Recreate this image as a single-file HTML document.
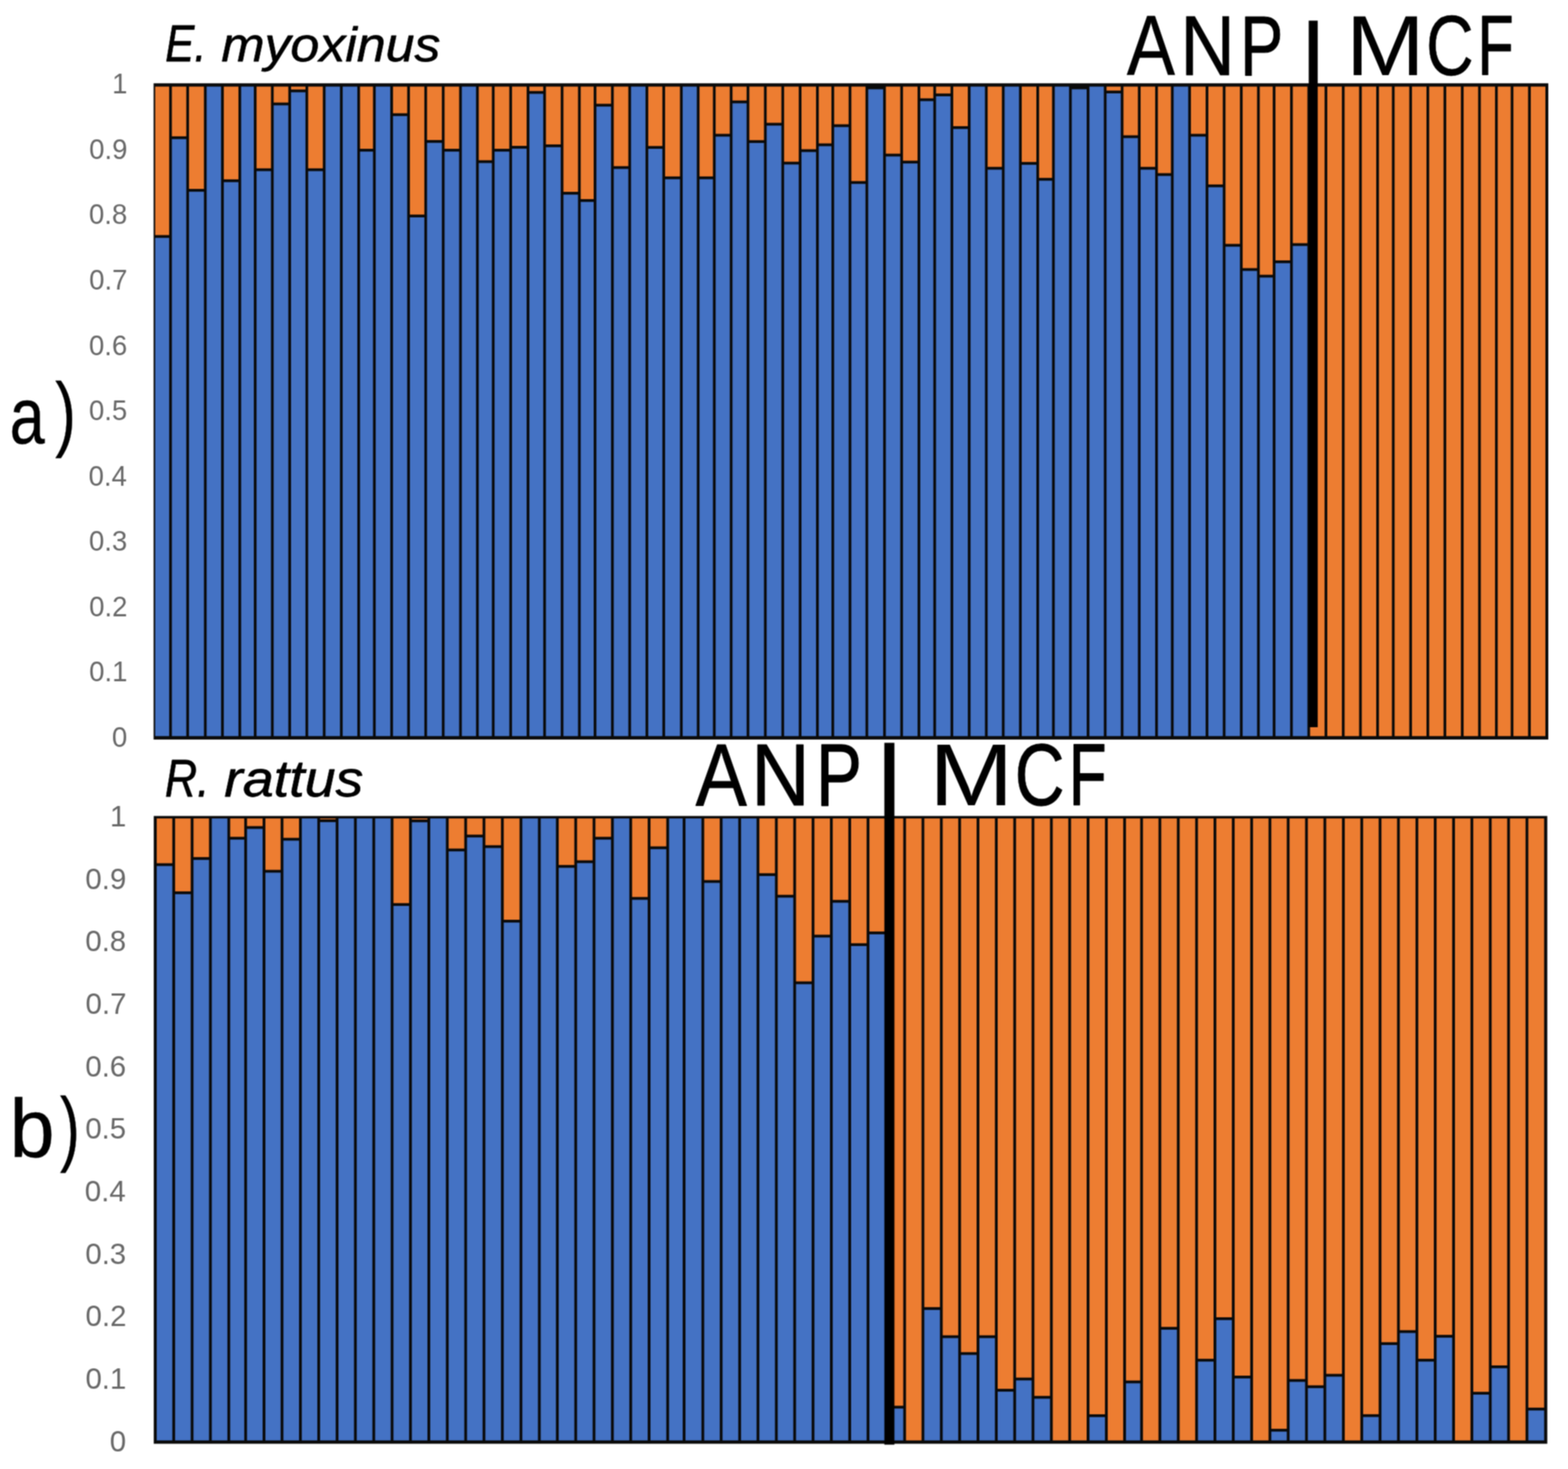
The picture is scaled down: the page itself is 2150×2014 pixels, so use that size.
<!DOCTYPE html>
<html lang="en">
<head>
<meta charset="utf-8">
<title>Population structure: E. myoxinus and R. rattus (ANP | MCF)</title>
<style>
html, body { margin: 0; padding: 0; background: #ffffff; }
body { width: 2150px; height: 2014px; overflow: hidden; }
svg { display: block; font-family: "Liberation Sans", sans-serif; font-kerning: none; }
</style>
</head>
<body>
<svg width="2150" height="2014" viewBox="0 0 2150 2014">
<title>Ancestry proportions for E. myoxinus and R. rattus, ANP | MCF</title>
<desc>Two stacked bar charts with a vertical axis from 0 to 1. Panel a) E. myoxinus and panel b) R. rattus; in each panel a thick vertical line separates ANP individuals (left) from MCF individuals (right).</desc>
<defs>
<filter id="soft" filterUnits="userSpaceOnUse" x="0" y="0" width="2150" height="2014" color-interpolation-filters="sRGB">
<feConvolveMatrix order="3" kernelMatrix="1 2 1 2 4 2 1 2 1" edgeMode="duplicate" preserveAlpha="true"/>
</filter>
</defs>
<g id="figure" filter="url(#soft)">
<rect width="2150" height="2014" fill="#ffffff"/>
<g id="chart-a">
<rect x="210.6" y="114.2" width="1912.4" height="899.7" fill="#0a0a0a"/>
<g fill="#4472c4">
<rect x="212.8" y="326.1" width="19.15" height="683.1"/>
<rect x="235.65" y="190.7" width="19.8" height="818.5"/>
<rect x="259.15" y="262.8" width="20.5" height="746.4"/>
<rect x="283.35" y="118.7" width="19.8" height="890.5"/>
<rect x="306.85" y="249.7" width="20.1" height="759.5"/>
<rect x="330.65" y="118.7" width="17.4" height="890.5"/>
<rect x="351.75" y="234.6" width="19.8" height="774.6"/>
<rect x="375.25" y="144.4" width="20.1" height="864.8"/>
<rect x="399.05" y="126.5" width="19.8" height="882.7"/>
<rect x="422.55" y="234.6" width="20.1" height="774.6"/>
<rect x="446.35" y="118.7" width="19.8" height="890.5"/>
<rect x="469.85" y="118.7" width="20.1" height="890.5"/>
<rect x="493.65" y="207.8" width="17.8" height="801.4"/>
<rect x="515.15" y="118.7" width="20" height="890.5"/>
<rect x="538.85" y="159.1" width="19.5" height="850.1"/>
<rect x="562.05" y="298" width="19.8" height="711.2"/>
<rect x="585.55" y="195.8" width="20.3" height="813.4"/>
<rect x="609.55" y="207.8" width="20" height="801.4"/>
<rect x="633.25" y="118.7" width="19.5" height="890.5"/>
<rect x="656.45" y="223.5" width="18" height="785.7"/>
<rect x="678.15" y="207.8" width="20.2" height="801.4"/>
<rect x="702.05" y="203.8" width="20.1" height="805.4"/>
<rect x="725.85" y="128.6" width="19" height="880.6"/>
<rect x="748.55" y="201.8" width="20.3" height="807.4"/>
<rect x="772.55" y="266.8" width="20" height="742.4"/>
<rect x="796.25" y="276.8" width="17.8" height="732.4"/>
<rect x="817.75" y="146.1" width="20.1" height="863.1"/>
<rect x="841.55" y="231.6" width="20" height="777.6"/>
<rect x="865.25" y="118.7" width="19.9" height="890.5"/>
<rect x="888.85" y="204" width="19.4" height="805.2"/>
<rect x="911.95" y="245.7" width="20.4" height="763.5"/>
<rect x="936.05" y="118.7" width="19.4" height="890.5"/>
<rect x="959.15" y="245.7" width="18.4" height="763.5"/>
<rect x="981.25" y="187.3" width="19.4" height="821.9"/>
<rect x="1004.35" y="141.6" width="19.4" height="867.6"/>
<rect x="1027.45" y="196" width="20.1" height="813.2"/>
<rect x="1051.25" y="172.2" width="20.2" height="837"/>
<rect x="1075.15" y="225.5" width="20.1" height="783.7"/>
<rect x="1098.95" y="208.4" width="20" height="800.8"/>
<rect x="1122.65" y="200.4" width="17.4" height="808.8"/>
<rect x="1143.75" y="174.2" width="19.9" height="835"/>
<rect x="1167.35" y="252.1" width="19.4" height="757.1"/>
<rect x="1190.45" y="122.4" width="20.5" height="886.8"/>
<rect x="1214.65" y="214.5" width="19.8" height="794.7"/>
<rect x="1238.15" y="224.1" width="20" height="785.1"/>
<rect x="1261.85" y="138.6" width="17.9" height="870.6"/>
<rect x="1283.45" y="132" width="19.9" height="877.2"/>
<rect x="1307.05" y="176.8" width="20" height="832.4"/>
<rect x="1330.75" y="118.7" width="19.8" height="890.5"/>
<rect x="1354.25" y="232.6" width="19.5" height="776.6"/>
<rect x="1377.45" y="118.7" width="19.8" height="890.5"/>
<rect x="1400.95" y="225.9" width="20.1" height="783.3"/>
<rect x="1424.75" y="247.7" width="17.8" height="761.5"/>
<rect x="1446.25" y="118.7" width="19.6" height="890.5"/>
<rect x="1469.55" y="122.4" width="20.5" height="886.8"/>
<rect x="1493.75" y="118.7" width="19.8" height="890.5"/>
<rect x="1517.25" y="128" width="19.5" height="881.2"/>
<rect x="1540.45" y="189.3" width="19.8" height="819.9"/>
<rect x="1563.95" y="232.6" width="20" height="776.6"/>
<rect x="1587.65" y="241.2" width="17.9" height="768"/>
<rect x="1609.25" y="118.7" width="20" height="890.5"/>
<rect x="1632.95" y="187.3" width="20.2" height="821.9"/>
<rect x="1656.85" y="256.7" width="19.8" height="752.5"/>
<rect x="1680.35" y="338.2" width="19.8" height="671"/>
<rect x="1703.85" y="371.4" width="19.8" height="637.8"/>
<rect x="1727.35" y="380.5" width="17.8" height="628.7"/>
<rect x="1748.85" y="360.8" width="20.1" height="648.4"/>
<rect x="1772.65" y="337.2" width="20" height="672"/>
</g>
<g fill="#ed7d31">
<rect x="212.8" y="118.7" width="19.15" height="203.6"/>
<rect x="235.65" y="118.7" width="19.8" height="68.2"/>
<rect x="259.15" y="118.7" width="20.5" height="140.3"/>
<rect x="306.85" y="118.7" width="20.1" height="127.2"/>
<rect x="351.75" y="118.7" width="19.8" height="112.1"/>
<rect x="375.25" y="118.7" width="20.1" height="21.9"/>
<rect x="399.05" y="118.7" width="19.8" height="4"/>
<rect x="422.55" y="118.7" width="20.1" height="112.1"/>
<rect x="493.65" y="118.7" width="17.8" height="85.3"/>
<rect x="538.85" y="118.7" width="19.5" height="36.6"/>
<rect x="562.05" y="118.7" width="19.8" height="175.5"/>
<rect x="585.55" y="118.7" width="20.3" height="73.3"/>
<rect x="609.55" y="118.7" width="20" height="85.3"/>
<rect x="656.45" y="118.7" width="18" height="101"/>
<rect x="678.15" y="118.7" width="20.2" height="85.3"/>
<rect x="702.05" y="118.7" width="20.1" height="81.3"/>
<rect x="725.85" y="118.7" width="19" height="6.1"/>
<rect x="748.55" y="118.7" width="20.3" height="79.3"/>
<rect x="772.55" y="118.7" width="20" height="144.3"/>
<rect x="796.25" y="118.7" width="17.8" height="154.3"/>
<rect x="817.75" y="118.7" width="20.1" height="23.6"/>
<rect x="841.55" y="118.7" width="20" height="109.1"/>
<rect x="888.85" y="118.7" width="19.4" height="81.5"/>
<rect x="911.95" y="118.7" width="20.4" height="123.2"/>
<rect x="959.15" y="118.7" width="18.4" height="123.2"/>
<rect x="981.25" y="118.7" width="19.4" height="64.8"/>
<rect x="1004.35" y="118.7" width="19.4" height="19.1"/>
<rect x="1027.45" y="118.7" width="20.1" height="73.5"/>
<rect x="1051.25" y="118.7" width="20.2" height="49.7"/>
<rect x="1075.15" y="118.7" width="20.1" height="103"/>
<rect x="1098.95" y="118.7" width="20" height="85.9"/>
<rect x="1122.65" y="118.7" width="17.4" height="77.9"/>
<rect x="1143.75" y="118.7" width="19.9" height="51.7"/>
<rect x="1167.35" y="118.7" width="19.4" height="129.6"/>
<rect x="1214.65" y="118.7" width="19.8" height="92"/>
<rect x="1238.15" y="118.7" width="20" height="101.6"/>
<rect x="1261.85" y="118.7" width="17.9" height="16.1"/>
<rect x="1283.45" y="118.7" width="19.9" height="9.5"/>
<rect x="1307.05" y="118.7" width="20" height="54.3"/>
<rect x="1354.25" y="118.7" width="19.5" height="110.1"/>
<rect x="1400.95" y="118.7" width="20.1" height="103.4"/>
<rect x="1424.75" y="118.7" width="17.8" height="125.2"/>
<rect x="1517.25" y="118.7" width="19.5" height="5.5"/>
<rect x="1540.45" y="118.7" width="19.8" height="66.8"/>
<rect x="1563.95" y="118.7" width="20" height="110.1"/>
<rect x="1587.65" y="118.7" width="17.9" height="118.7"/>
<rect x="1632.95" y="118.7" width="20.2" height="64.8"/>
<rect x="1656.85" y="118.7" width="19.8" height="134.2"/>
<rect x="1680.35" y="118.7" width="19.8" height="215.7"/>
<rect x="1703.85" y="118.7" width="19.8" height="248.9"/>
<rect x="1727.35" y="118.7" width="17.8" height="258"/>
<rect x="1748.85" y="118.7" width="20.1" height="238.3"/>
<rect x="1772.65" y="118.7" width="20" height="214.7"/>
<rect x="1796.35" y="118.7" width="19.9" height="890.5"/>
<rect x="1819.95" y="118.7" width="20" height="890.5"/>
<rect x="1843.65" y="118.7" width="19.9" height="890.5"/>
<rect x="1867.25" y="118.7" width="19.8" height="890.5"/>
<rect x="1890.75" y="118.7" width="17.8" height="890.5"/>
<rect x="1912.25" y="118.7" width="20.1" height="890.5"/>
<rect x="1936.05" y="118.7" width="19.9" height="890.5"/>
<rect x="1959.65" y="118.7" width="19.7" height="890.5"/>
<rect x="1983.05" y="118.7" width="20.1" height="890.5"/>
<rect x="2006.85" y="118.7" width="19.9" height="890.5"/>
<rect x="2030.45" y="118.7" width="19.5" height="890.5"/>
<rect x="2053.65" y="118.7" width="17.8" height="890.5"/>
<rect x="2075.15" y="118.7" width="20.1" height="890.5"/>
<rect x="2098.95" y="118.7" width="20.05" height="890.5"/>
</g>
</g>
<g id="chart-b">
<rect x="210.8" y="1118.7" width="1910.8" height="860.7" fill="#0a0a0a"/>
<g fill="#4472c4">
<rect x="214.9" y="1187.3" width="21.4" height="787.5"/>
<rect x="240.1" y="1225.9" width="21.4" height="748.9"/>
<rect x="265.3" y="1178.9" width="21.3" height="795.9"/>
<rect x="290.4" y="1122.1" width="21.4" height="852.7"/>
<rect x="315.6" y="1151.1" width="19.3" height="823.7"/>
<rect x="338.7" y="1136.4" width="21.4" height="838.4"/>
<rect x="363.9" y="1196.4" width="20.9" height="778.4"/>
<rect x="388.6" y="1152.5" width="21.4" height="822.3"/>
<rect x="413.8" y="1122.1" width="21.3" height="852.7"/>
<rect x="438.9" y="1127.1" width="21.4" height="847.7"/>
<rect x="464.1" y="1122.1" width="21.3" height="852.7"/>
<rect x="489.2" y="1122.1" width="21.4" height="852.7"/>
<rect x="514.4" y="1122.1" width="21.3" height="852.7"/>
<rect x="539.5" y="1242" width="21.4" height="732.8"/>
<rect x="564.7" y="1127.3" width="21.4" height="847.5"/>
<rect x="589.9" y="1122.1" width="21.5" height="852.7"/>
<rect x="615.2" y="1167.2" width="21.4" height="807.6"/>
<rect x="640.4" y="1148.1" width="21.3" height="826.7"/>
<rect x="665.5" y="1162.6" width="21.4" height="812.2"/>
<rect x="690.7" y="1264.8" width="21.7" height="710"/>
<rect x="716.2" y="1122.1" width="21.4" height="852.7"/>
<rect x="741.4" y="1122.1" width="20.9" height="852.7"/>
<rect x="766.1" y="1189.7" width="21.4" height="785.1"/>
<rect x="791.3" y="1183.3" width="21.3" height="791.5"/>
<rect x="816.4" y="1151.1" width="21.4" height="823.7"/>
<rect x="841.6" y="1122.1" width="21.3" height="852.7"/>
<rect x="866.7" y="1233.6" width="21.4" height="741.2"/>
<rect x="891.9" y="1164.2" width="21.7" height="810.6"/>
<rect x="917.4" y="1122.1" width="18.7" height="852.7"/>
<rect x="939.9" y="1122.1" width="21.9" height="852.7"/>
<rect x="965.6" y="1210.4" width="21.3" height="764.4"/>
<rect x="990.7" y="1122.1" width="21.6" height="852.7"/>
<rect x="1016.1" y="1122.1" width="21.3" height="852.7"/>
<rect x="1041.2" y="1201" width="21.4" height="773.8"/>
<rect x="1066.4" y="1230.6" width="21.3" height="744.2"/>
<rect x="1091.5" y="1349.3" width="21.4" height="625.5"/>
<rect x="1116.7" y="1285.3" width="21.3" height="689.5"/>
<rect x="1141.8" y="1237.6" width="21.4" height="737.2"/>
<rect x="1167" y="1297" width="21.3" height="677.8"/>
<rect x="1192.1" y="1280.9" width="21.3" height="693.9"/>
<rect x="1217.2" y="1931.1" width="21.3" height="43.7"/>
<rect x="1267.4" y="1795.9" width="21.4" height="178.9"/>
<rect x="1292.6" y="1834.5" width="21.3" height="140.3"/>
<rect x="1317.7" y="1857.6" width="21.4" height="117.2"/>
<rect x="1342.9" y="1834.5" width="21.3" height="140.3"/>
<rect x="1368" y="1907.9" width="21.4" height="66.9"/>
<rect x="1393.2" y="1892.5" width="21.3" height="82.3"/>
<rect x="1418.3" y="1917.6" width="21.4" height="57.2"/>
<rect x="1493.8" y="1942.8" width="21.3" height="32"/>
<rect x="1543.9" y="1896.5" width="19.5" height="78.3"/>
<rect x="1592.3" y="1823" width="21.4" height="151.8"/>
<rect x="1642.6" y="1866.7" width="21.4" height="108.1"/>
<rect x="1667.8" y="1809.8" width="21.3" height="165"/>
<rect x="1692.9" y="1889.8" width="21.4" height="85"/>
<rect x="1743.2" y="1962.7" width="21.2" height="12.1"/>
<rect x="1768.2" y="1894.5" width="21.3" height="80.3"/>
<rect x="1793.3" y="1903.1" width="21.4" height="71.7"/>
<rect x="1818.5" y="1887.4" width="21.6" height="87.4"/>
<rect x="1869.1" y="1942.7" width="21.3" height="32.1"/>
<rect x="1894.2" y="1844" width="21.4" height="130.8"/>
<rect x="1919.4" y="1827.5" width="21.5" height="147.3"/>
<rect x="1944.7" y="1866.7" width="21.3" height="108.1"/>
<rect x="1969.8" y="1833.9" width="21.4" height="140.9"/>
<rect x="2020.1" y="1912" width="21.4" height="62.8"/>
<rect x="2045.3" y="1875.8" width="21.3" height="99"/>
<rect x="2095.6" y="1933.7" width="21.7" height="41.1"/>
</g>
<g fill="#ed7d31">
<rect x="214.9" y="1122.1" width="21.4" height="61.4"/>
<rect x="240.1" y="1122.1" width="21.4" height="100"/>
<rect x="265.3" y="1122.1" width="21.3" height="53"/>
<rect x="315.6" y="1122.1" width="19.3" height="25.2"/>
<rect x="338.7" y="1122.1" width="21.4" height="10.5"/>
<rect x="363.9" y="1122.1" width="20.9" height="70.5"/>
<rect x="388.6" y="1122.1" width="21.4" height="26.6"/>
<rect x="438.9" y="1122.1" width="21.4" height="1.2"/>
<rect x="539.5" y="1122.1" width="21.4" height="116.1"/>
<rect x="564.7" y="1122.1" width="21.4" height="1.4"/>
<rect x="615.2" y="1122.1" width="21.4" height="41.3"/>
<rect x="640.4" y="1122.1" width="21.3" height="22.2"/>
<rect x="665.5" y="1122.1" width="21.4" height="36.7"/>
<rect x="690.7" y="1122.1" width="21.7" height="138.9"/>
<rect x="766.1" y="1122.1" width="21.4" height="63.8"/>
<rect x="791.3" y="1122.1" width="21.3" height="57.4"/>
<rect x="816.4" y="1122.1" width="21.4" height="25.2"/>
<rect x="866.7" y="1122.1" width="21.4" height="107.7"/>
<rect x="891.9" y="1122.1" width="21.7" height="38.3"/>
<rect x="965.6" y="1122.1" width="21.3" height="84.5"/>
<rect x="1041.2" y="1122.1" width="21.4" height="75.1"/>
<rect x="1066.4" y="1122.1" width="21.3" height="104.7"/>
<rect x="1091.5" y="1122.1" width="21.4" height="223.4"/>
<rect x="1116.7" y="1122.1" width="21.3" height="159.4"/>
<rect x="1141.8" y="1122.1" width="21.4" height="111.7"/>
<rect x="1167" y="1122.1" width="21.3" height="171.1"/>
<rect x="1192.1" y="1122.1" width="21.3" height="155"/>
<rect x="1217.2" y="1122.1" width="21.3" height="805.2"/>
<rect x="1242.3" y="1122.1" width="21.3" height="852.7"/>
<rect x="1267.4" y="1122.1" width="21.4" height="670"/>
<rect x="1292.6" y="1122.1" width="21.3" height="708.6"/>
<rect x="1317.7" y="1122.1" width="21.4" height="731.7"/>
<rect x="1342.9" y="1122.1" width="21.3" height="708.6"/>
<rect x="1368" y="1122.1" width="21.4" height="782"/>
<rect x="1393.2" y="1122.1" width="21.3" height="766.6"/>
<rect x="1418.3" y="1122.1" width="21.4" height="791.7"/>
<rect x="1443.5" y="1122.1" width="21.3" height="852.7"/>
<rect x="1468.6" y="1122.1" width="21.4" height="852.7"/>
<rect x="1493.8" y="1122.1" width="21.3" height="816.9"/>
<rect x="1518.9" y="1122.1" width="21.2" height="852.7"/>
<rect x="1543.9" y="1122.1" width="19.5" height="770.6"/>
<rect x="1567.2" y="1122.1" width="21.3" height="852.7"/>
<rect x="1592.3" y="1122.1" width="21.4" height="697.1"/>
<rect x="1617.5" y="1122.1" width="21.3" height="852.7"/>
<rect x="1642.6" y="1122.1" width="21.4" height="740.8"/>
<rect x="1667.8" y="1122.1" width="21.3" height="683.9"/>
<rect x="1692.9" y="1122.1" width="21.4" height="763.9"/>
<rect x="1718.1" y="1122.1" width="21.3" height="852.7"/>
<rect x="1743.2" y="1122.1" width="21.2" height="836.8"/>
<rect x="1768.2" y="1122.1" width="21.3" height="768.6"/>
<rect x="1793.3" y="1122.1" width="21.4" height="777.2"/>
<rect x="1818.5" y="1122.1" width="21.6" height="761.5"/>
<rect x="1843.9" y="1122.1" width="21.4" height="852.7"/>
<rect x="1869.1" y="1122.1" width="21.3" height="816.8"/>
<rect x="1894.2" y="1122.1" width="21.4" height="718.1"/>
<rect x="1919.4" y="1122.1" width="21.5" height="701.6"/>
<rect x="1944.7" y="1122.1" width="21.3" height="740.8"/>
<rect x="1969.8" y="1122.1" width="21.4" height="708"/>
<rect x="1995" y="1122.1" width="21.3" height="852.7"/>
<rect x="2020.1" y="1122.1" width="21.4" height="786.1"/>
<rect x="2045.3" y="1122.1" width="21.3" height="749.9"/>
<rect x="2070.4" y="1122.1" width="21.4" height="852.7"/>
<rect x="2095.6" y="1122.1" width="21.7" height="807.8"/>
</g>
</g>
<g id="dividers" fill="#000000">
<rect x="1794.5" y="28.3" width="12.3" height="968.7"/>
<rect x="1212.6" y="1018.4" width="13.8" height="962.2"/>
</g>
<g id="axis-a">
<g fill="#686868" font-size="38.5">
<text id="ya0" x="153.76" y="128.34" textLength="20.98" lengthAdjust="spacingAndGlyphs">1</text>
<text id="ya1" x="122.24" y="217.89" textLength="52.45" lengthAdjust="spacingAndGlyphs">0.9</text>
<text id="ya2" x="122.09" y="307.44" textLength="52.45" lengthAdjust="spacingAndGlyphs">0.8</text>
<text id="ya3" x="122.35" y="396.99" textLength="52.45" lengthAdjust="spacingAndGlyphs">0.7</text>
<text id="ya4" x="122.11" y="486.54" textLength="52.45" lengthAdjust="spacingAndGlyphs">0.6</text>
<text id="ya5" x="122.03" y="576.09" textLength="52.45" lengthAdjust="spacingAndGlyphs">0.5</text>
<text id="ya6" x="121.56" y="665.64" textLength="52.45" lengthAdjust="spacingAndGlyphs">0.4</text>
<text id="ya7" x="122.11" y="755.19" textLength="52.45" lengthAdjust="spacingAndGlyphs">0.3</text>
<text id="ya8" x="122.35" y="844.74" textLength="52.45" lengthAdjust="spacingAndGlyphs">0.2</text>
<text id="ya9" x="122.29" y="934.29" textLength="52.45" lengthAdjust="spacingAndGlyphs">0.1</text>
<text id="ya10" x="153.39" y="1023.84" textLength="20.98" lengthAdjust="spacingAndGlyphs">0</text>
</g>
</g>
<g id="axis-b">
<g fill="#686868" font-size="41.4">
<text id="yb0" x="150.82" y="1132.84" textLength="22.45" lengthAdjust="spacingAndGlyphs">1</text>
<text id="yb1" x="117.1" y="1218.51" textLength="56.11" lengthAdjust="spacingAndGlyphs">0.9</text>
<text id="yb2" x="116.94" y="1304.18" textLength="56.11" lengthAdjust="spacingAndGlyphs">0.8</text>
<text id="yb3" x="117.22" y="1389.85" textLength="56.11" lengthAdjust="spacingAndGlyphs">0.7</text>
<text id="yb4" x="116.96" y="1475.52" textLength="56.11" lengthAdjust="spacingAndGlyphs">0.6</text>
<text id="yb5" x="116.88" y="1561.19" textLength="56.11" lengthAdjust="spacingAndGlyphs">0.5</text>
<text id="yb6" x="116.37" y="1646.86" textLength="56.11" lengthAdjust="spacingAndGlyphs">0.4</text>
<text id="yb7" x="116.96" y="1732.53" textLength="56.11" lengthAdjust="spacingAndGlyphs">0.3</text>
<text id="yb8" x="117.22" y="1818.2" textLength="56.11" lengthAdjust="spacingAndGlyphs">0.2</text>
<text id="yb9" x="117.16" y="1903.87" textLength="56.11" lengthAdjust="spacingAndGlyphs">0.1</text>
<text id="yb10" x="150.43" y="1989.54" textLength="22.45" lengthAdjust="spacingAndGlyphs">0</text>
</g>
</g>
<g id="labels" fill="#000000">
<text id="t_em" aria-label="E. myoxinus" font-size="69.5" font-style="italic" stroke="#000" stroke-width="0.8" stroke-linejoin="round"><tspan x="226.55" y="83.7" textLength="56.7" lengthAdjust="spacingAndGlyphs">E.</tspan> <tspan x="303.62" y="83.7" textLength="300.24" lengthAdjust="spacingAndGlyphs" font-size="66.5">myoxinus</tspan></text>
<text id="t_rr" aria-label="R. rattus" font-size="72.5" font-style="italic" stroke="#000" stroke-width="0.8" stroke-linejoin="round"><tspan x="226.01" y="1091.9" textLength="61.3" lengthAdjust="spacingAndGlyphs">R.</tspan> <tspan x="307.64" y="1091.9" textLength="190.43" lengthAdjust="spacingAndGlyphs" font-size="70">rattus</tspan></text>
<text id="t_anp1" aria-label="ANP" font-size="116" stroke="#000" stroke-width="0.6" stroke-linejoin="round"><tspan x="1545.01" y="103.2" textLength="66.19" lengthAdjust="spacingAndGlyphs">A</tspan><tspan x="1618.15" y="103.2" textLength="75.24" lengthAdjust="spacingAndGlyphs">N</tspan><tspan x="1700.44" y="103.2" textLength="59.03" lengthAdjust="spacingAndGlyphs" stroke="#000" stroke-width="1.2">P</tspan></text>
<text id="t_mcf1" aria-label="MCF" font-size="116" stroke="#000" stroke-width="0.6" stroke-linejoin="round"><tspan x="1845.56" y="103.2" textLength="108.08" lengthAdjust="spacingAndGlyphs" stroke="#000" stroke-width="0.01">M</tspan><tspan x="1955.29" y="103.2" textLength="65.57" lengthAdjust="spacingAndGlyphs">C</tspan><tspan x="2025.95" y="103.2" textLength="49.49" lengthAdjust="spacingAndGlyphs" stroke="#000" stroke-width="1.2">F</tspan></text>
<text id="t_anp2" aria-label="ANP" font-size="121" stroke="#000" stroke-width="0.9" stroke-linejoin="round"><tspan x="953.64" y="1104.2" textLength="70.41" lengthAdjust="spacingAndGlyphs">A</tspan><tspan x="1029.87" y="1104.2" textLength="80.8" lengthAdjust="spacingAndGlyphs">N</tspan><tspan x="1118.93" y="1104.2" textLength="62.79" lengthAdjust="spacingAndGlyphs" stroke="#000" stroke-width="1.5">P</tspan></text>
<text id="t_mcf2" aria-label="MCF" font-size="121" stroke="#000" stroke-width="0.9" stroke-linejoin="round"><tspan x="1274.13" y="1104.2" textLength="115.55" lengthAdjust="spacingAndGlyphs" stroke="#000" stroke-width="0.01">M</tspan><tspan x="1391.22" y="1104.2" textLength="68.65" lengthAdjust="spacingAndGlyphs">C</tspan><tspan x="1465.58" y="1104.2" textLength="51.86" lengthAdjust="spacingAndGlyphs" stroke="#000" stroke-width="1.5">F</tspan></text>
<text id="t_a" aria-label="a)" font-size="110" stroke="#000" stroke-width="0.5" stroke-linejoin="round"><tspan x="13.19" y="607.6" textLength="47.96" lengthAdjust="spacingAndGlyphs">a</tspan><tspan x="75.75" y="603.8" textLength="28.39" lengthAdjust="spacingAndGlyphs" font-size="113.5">)</tspan></text>
<text id="t_b" aria-label="b)" font-size="112.5" stroke="#000" stroke-width="0.5" stroke-linejoin="round"><tspan x="13.21" y="1585.6" textLength="61.59" lengthAdjust="spacingAndGlyphs">b</tspan><tspan x="82.27" y="1583.8" textLength="27.13" lengthAdjust="spacingAndGlyphs" font-size="113.5">)</tspan></text>
</g>
</g>
</svg>
</body>
</html>
